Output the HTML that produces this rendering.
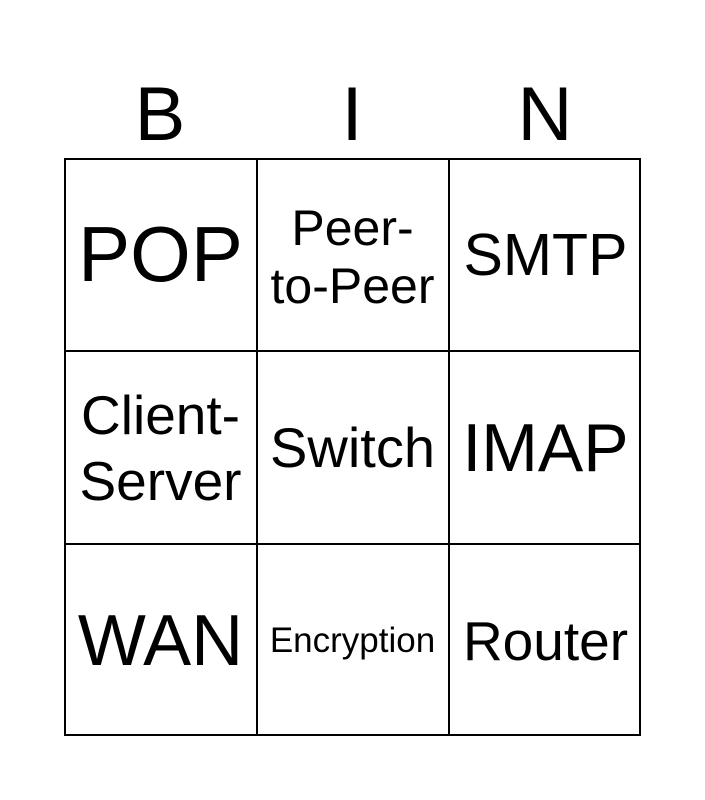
<!DOCTYPE html>
<html><head><meta charset="utf-8"><style>
html,body{margin:0;padding:0;background:#fff;}
body{width:705px;height:800px;position:relative;overflow:hidden;font-family:"Liberation Sans",Arial,sans-serif;color:#000;}
.h{position:absolute;top:72px;font-size:76px;line-height:86px;width:192px;text-align:center;}
.grid{position:absolute;left:64px;top:158px;width:577px;height:578px;border:2px solid #000;box-sizing:border-box;}
.c{position:absolute;width:193px;height:193px;display:flex;align-items:center;justify-content:center;text-align:center;box-sizing:border-box;}
.vl{position:absolute;top:158px;width:2px;height:578px;background:#000;}
.hl{position:absolute;left:64px;width:577px;height:2px;background:#000;}
</style></head><body>
<div class="h" style="left:64px">B</div>
<div class="h" style="left:256px">I</div>
<div class="h" style="left:449px">N</div>
<div class="grid"></div>
<div class="vl" style="left:256px"></div>
<div class="vl" style="left:448px"></div>
<div class="hl" style="top:350px"></div>
<div class="hl" style="top:543px"></div>

<div class="c" style="left:64px;top:158px;font-size:78px;">POP</div>
<div class="c" style="left:256px;top:160px;font-size:50px;line-height:58px;">Peer-<br>to-Peer</div>
<div class="c" style="left:449px;top:158px;font-size:59px;">SMTP</div>

<div class="c" style="left:64px;top:351px;font-size:55px;line-height:66px;">Client-<br>Server</div>
<div class="c" style="left:256px;top:351px;font-size:56px;">Switch</div>
<div class="c" style="left:449px;top:351px;font-size:68px;">IMAP</div>

<div class="c" style="left:64px;top:544px;font-size:72px;">WAN</div>
<div class="c" style="left:256px;top:544px;font-size:35px;">Encryption</div>
<div class="c" style="left:449px;top:544px;font-size:55px;">Router</div>
</body></html>
